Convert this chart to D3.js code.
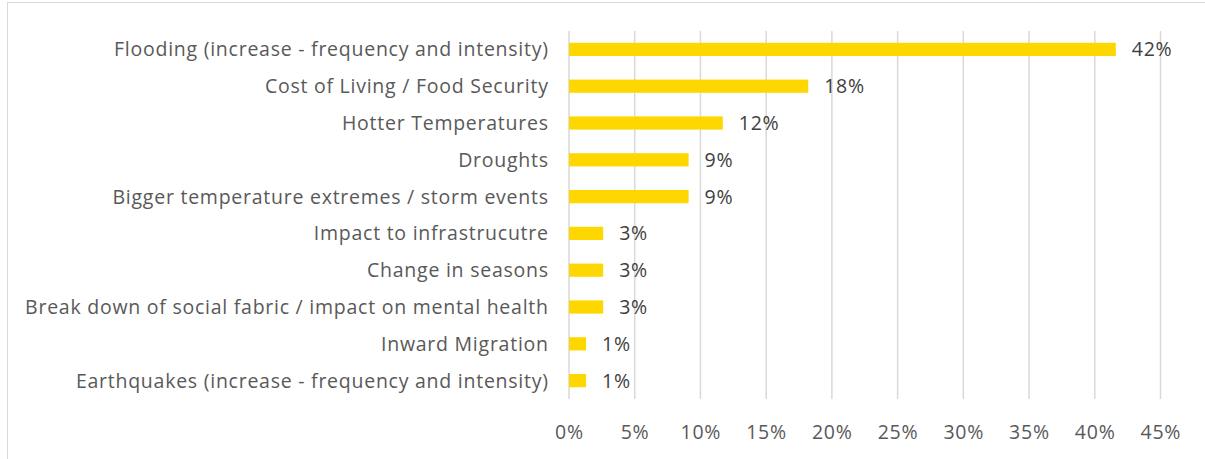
<!DOCTYPE html>
<html><head><meta charset="utf-8">
<script src="https://cdn.jsdelivr.net/npm/d3@7"></script>
<style>body{margin:0;background:#fff;} text{font-family:"Open Sans",sans-serif;letter-spacing:0.75px;}</style>
</head><body><svg id="c" width="1205" height="459"></svg>
<script>
const categories = ["Flooding (increase - frequency and intensity)","Cost of Living / Food Security","Hotter Temperatures","Droughts","Bigger temperature extremes / storm events","Impact to infrastrucutre","Change in seasons","Break down of social fabric / impact on mental health","Inward Migration","Earthquakes (increase - frequency and intensity)"];
const values = [0.416,0.182,0.117,0.091,0.091,0.026,0.026,0.026,0.013,0.013];
const valueLabels = ["42%","18%","12%","9%","9%","3%","3%","3%","1%","1%"];
const ticks = [0,0.05,0.1,0.15,0.2,0.25,0.3,0.35,0.4,0.45];

const svg = d3.select("#c");
svg.append("rect").attr("x",7.5).attr("y",2.5).attr("width",1205).attr("height",470).attr("fill","none").attr("stroke","#d9d9d9");
const x = d3.scaleLinear().domain([0,0.45]).range([569,1160.5]);
const y = d3.scaleBand().domain(categories).range([31,399]).paddingInner(0.64).paddingOuter(0.32);

svg.append("g").selectAll("line").data(ticks).join("line")
  .attr("x1",d=>x(d)).attr("x2",d=>x(d)).attr("y1",31).attr("y2",399)
  .attr("stroke","#d9d9d9").attr("stroke-width",1.5);

svg.append("g").selectAll("rect").data(values).join("rect")
  .attr("x",x(0)).attr("y",(d,i)=>y(categories[i])).attr("width",d=>x(d)-x(0)).attr("height",y.bandwidth())
  .attr("fill","#ffd700");

svg.append("g").selectAll("text").data(valueLabels).join("text")
  .attr("x",(d,i)=>x(values[i])+16).attr("y",(d,i)=>y(categories[i])+y.bandwidth()/2).attr("dy","0.36em")
  .attr("font-size",19.5).attr("fill","#404040").text(d=>d);

svg.append("g").selectAll("text").data(categories).join("text")
  .attr("x",548.75).attr("y",d=>y(d)+y.bandwidth()/2).attr("dy","0.36em").attr("text-anchor","end")
  .attr("font-size",19.5).attr("fill","#595959").text(d=>d);

svg.append("g").selectAll("text").data(ticks).join("text")
  .attr("x",d=>x(d)+0.4).attr("y",432).attr("dy","0.36em").attr("text-anchor","middle")
  .attr("font-size",19.5).attr("fill","#595959").text(d=>Math.round(d*100)+"%");
</script></body></html>
